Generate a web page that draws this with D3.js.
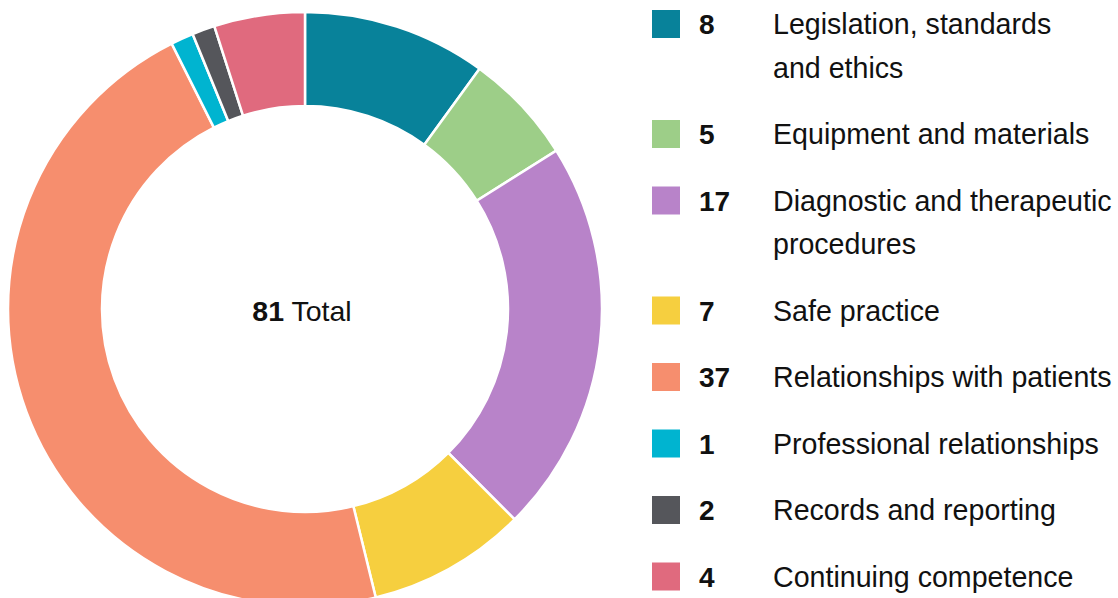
<!DOCTYPE html>
<html>
<head>
<meta charset="utf-8">
<script src="https://cdn.jsdelivr.net/npm/d3@7"></script>
<style>
  html, body { margin: 0; padding: 0; background: #fff; }
  svg text { font-family: "Liberation Sans", Arial, sans-serif; fill: #111; }
</style>
</head>
<body>
<div id="chart"></div>
<script>
// categories (line breaks as in the legend), counts and slice colours
var categories = [
    "Legislation, standards\nand ethics",
    "Equipment and materials",
    "Diagnostic and therapeutic\nprocedures",
    "Safe practice",
    "Relationships with patients",
    "Professional relationships",
    "Records and reporting",
    "Continuing competence"
];
var counts = [8, 5, 17, 7, 37, 1, 2, 4];
// slice sizes as drawn in the original (they don't follow the counts exactly,
// e.g. the "Records" slice is drawn about as thin as the "1" slice)
var sliceSizes = [8.1, 4.9, 17.4, 7, 37.6, 1, 1, 4];
var colours = ["#08829a", "#9dce88", "#b883c9", "#f6cf3f", "#f68e6e", "#00b4d0", "#55565b", "#e06a7e"];

var dataset = categories.map(function(c, i) {
    return { status: c, count: +counts[i], size: +sliceSizes[i] };
});

var w = 1118, h = 598;
var cx = 305, cy = 309;
var outerRadius = 297, innerRadius = 203;

var color = d3.scaleOrdinal()
    .domain(categories)
    .range(colours);

var pie = d3.pie()
    .value(function(d) { return d.size; })
    .sort(null);

var arc = d3.arc()
    .outerRadius(outerRadius)
    .innerRadius(innerRadius);

var svg = d3.select("#chart")
    .append("svg")
    .attr("width", w)
    .attr("height", h);

var donut = svg.append("g")
    .attr("transform", "translate(" + cx + "," + cy + ")");

donut.selectAll("path")
    .data(pie(dataset))
    .enter()
    .append("path")
    .attr("d", arc)
    .attr("fill", function(d) { return color(d.data.status); })
    .attr("stroke", "#fff")
    .attr("stroke-width", 2.5);

// total in the middle
var total = d3.sum(counts);
var centre = donut.append("text")
    .attr("text-anchor", "middle")
    .attr("x", -3)
    .attr("y", 12)
    .style("font-size", "28.5px");
centre.append("tspan").style("font-weight", "bold").text(total);
centre.append("tspan").text(" Total");

// legend
var rowGap = 66.5, lineGap = 43.5;
var rowY = [];
var y = 24;
dataset.forEach(function(d, i) {
    rowY.push(y);
    y += rowGap + (d.status.split("\n").length - 1) * lineGap;
});

var legend = svg.selectAll(".legend")
    .data(dataset)
    .enter()
    .append("g")
    .attr("class", "legend")
    .attr("transform", function(d, i) { return "translate(652," + rowY[i] + ")"; });

legend.append("rect")
    .attr("x", 0)
    .attr("y", -14)
    .attr("width", 28)
    .attr("height", 28)
    .attr("fill", function(d) { return color(d.status); });

legend.append("text")
    .attr("x", 47)
    .attr("y", 10)
    .style("font-size", "28px")
    .style("font-weight", "bold")
    .text(function(d) { return d.count; });

legend.append("text")
    .attr("x", 121)
    .attr("y", 10)
    .style("font-size", "28.6px")
    .each(function(d) {
        var t = d3.select(this);
        d.status.split("\n").forEach(function(line, j) {
            t.append("tspan")
                .attr("x", 121)
                .attr("dy", j === 0 ? 0 : lineGap)
                .text(line);
        });
    });
</script>
</body>
</html>
